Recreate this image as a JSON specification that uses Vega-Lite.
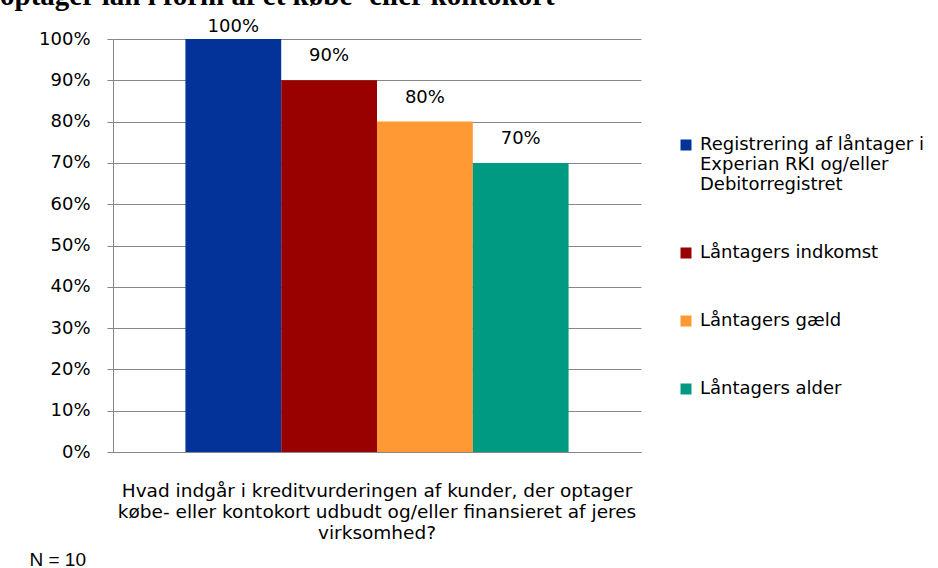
{
  "$schema": "https://vega.github.io/schema/vega-lite/v6.json",
  "autosize": {"type": "none"},
  "width": 528,
  "height": 413,
  "padding": {"left": 113, "top": 39, "right": 297, "bottom": 116},
  "background": "white",
  "title": {
    "text": "optager lån i form af et købe- eller kontokort",
    "anchor": "start",
    "frame": "group",
    "dx": -113,
    "dy": 16,
    "offset": 0,
    "baseline": "alphabetic",
    "font": "Liberation Serif",
    "fontSize": 29,
    "fontWeight": "bold",
    "color": "black"
  },
  "data": {
    "values": [
      {"question": "Hvad indgår i kreditvurderingen af kunder, der optager\nkøbe- eller kontokort udbudt og/eller finansieret af jeres\nvirksomhed?", "item": "Registrering af låntager i\nExperian RKI og/eller\nDebitorregistret", "share": 1.0},
      {"question": "Hvad indgår i kreditvurderingen af kunder, der optager\nkøbe- eller kontokort udbudt og/eller finansieret af jeres\nvirksomhed?", "item": "Låntagers indkomst", "share": 0.9},
      {"question": "Hvad indgår i kreditvurderingen af kunder, der optager\nkøbe- eller kontokort udbudt og/eller finansieret af jeres\nvirksomhed?", "item": "Låntagers gæld", "share": 0.8},
      {"question": "Hvad indgår i kreditvurderingen af kunder, der optager\nkøbe- eller kontokort udbudt og/eller finansieret af jeres\nvirksomhed?", "item": "Låntagers alder", "share": 0.7}
    ]
  },
  "encoding": {
    "x": {
      "field": "question",
      "type": "nominal",
      "scale": {"paddingInner": 0, "paddingOuter": 0.189},
      "axis": {
        "title": "N = 10",
        "titleX": -84,
        "titleY": 113,
        "titleAnchor": "start",
        "titleAlign": "left",
        "titleBaseline": "alphabetic",
        "titleFont": "Liberation Sans",
        "titleFontSize": 19,
        "titleFontWeight": "normal",
        "titleColor": "black",
        "labelAngle": 0,
        "labelExpr": "split(datum.label, '\\n')",
        "labelFont": "DejaVu Sans",
        "labelFontSize": 18.5,
        "labelColor": "black",
        "labelLineHeight": 21,
        "labelBaseline": "top",
        "labelPadding": 29,
        "labelLimit": 700,
        "labelOverlap": false,
        "labelBound": false,
        "ticks": false,
        "domainColor": "#868686",
        "domainWidth": 1
      }
    },
    "xOffset": {
      "field": "item",
      "type": "nominal",
      "sort": null,
      "scale": {"paddingInner": 0, "paddingOuter": 0}
    },
    "y": {
      "field": "share",
      "type": "quantitative",
      "scale": {"domain": [0, 1]},
      "axis": {
        "title": null,
        "values": [0, 0.1, 0.2, 0.3, 0.4, 0.5, 0.6, 0.7, 0.8, 0.9, 1.0],
        "format": ".0%",
        "labelFont": "DejaVu Sans",
        "labelFontSize": 18,
        "labelColor": "black",
        "labelPadding": 17,
        "tickSize": 6,
        "tickColor": "#868686",
        "domainColor": "#868686",
        "grid": true,
        "gridColor": "#868686",
        "gridWidth": 1
      }
    }
  },
  "layer": [
    {
      "mark": {"type": "bar"},
      "encoding": {
        "color": {
          "field": "item",
          "type": "nominal",
          "sort": null,
          "scale": {
            "domain": ["Registrering af låntager i\nExperian RKI og/eller\nDebitorregistret", "Låntagers indkomst", "Låntagers gæld", "Låntagers alder"],
            "range": ["#033399", "#990000", "#FF9933", "#009981"]
          },
          "legend": {
            "title": null,
            "orient": "none",
            "legendX": 564,
            "legendY": 97,
            "symbolType": "square",
            "symbolSize": 121,
            "symbolStrokeWidth": 0,
            "labelExpr": "split(datum.label, '\\n')",
            "labelFont": "DejaVu Sans",
            "labelFontSize": 18,
            "labelColor": "black",
            "labelLineHeight": 21,
            "labelOffset": 5,
            "labelLimit": 300,
            "rowPadding": 50,
            "padding": 0
          }
        }
      }
    },
    {
      "transform": [{"filter": "datum.share < 1"}],
      "mark": {
        "type": "text",
        "baseline": "middle",
        "dy": -24,
        "font": "DejaVu Sans",
        "fontSize": 18,
        "color": "black"
      },
      "encoding": {
        "text": {"field": "share", "type": "quantitative", "format": ".0%"}
      }
    },
    {
      "transform": [{"filter": "datum.share >= 1"}],
      "mark": {
        "type": "text",
        "baseline": "middle",
        "dy": -12,
        "font": "DejaVu Sans",
        "fontSize": 18,
        "color": "black"
      },
      "encoding": {
        "text": {"field": "share", "type": "quantitative", "format": ".0%"}
      }
    }
  ],
  "config": {
    "view": {"stroke": null}
  }
}
